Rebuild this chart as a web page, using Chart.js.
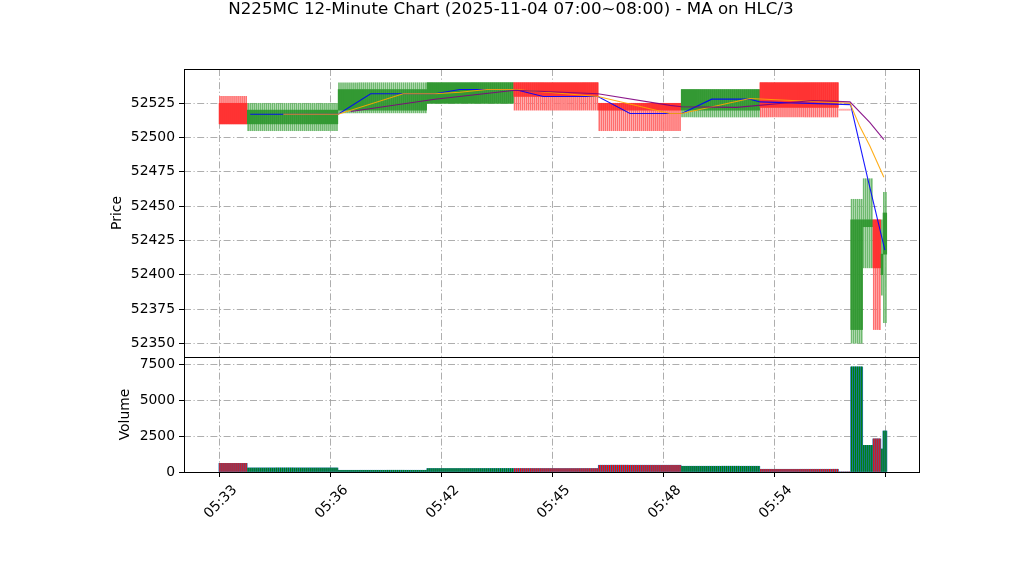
<!DOCTYPE html>
<html>
<head>
<meta charset="utf-8">
<script src="https://cdn.jsdelivr.net/npm/chart.js@4.4.0/dist/chart.umd.min.js"></script>
<style>
  html, body { margin: 0; padding: 0; background: #fff; }
  #wrap { width: 1022px; height: 575px; }
</style>
</head>
<body>
<div id="wrap"><canvas id="chart" width="1022" height="575"></canvas></div>
<script>
// start: Data
// the feed repeats the same bar over a run of slots, one entry per run
const blockStart = [0, 14, 59, 103, 146, 188, 229, 268, 307, 313, 319, 324, 328, 329];
const blockCount = [14, 45, 44, 43, 42, 41, 39, 39, 6, 6, 5, 4, 1, 2];
const opens   = [52525, 52510, 52520, 52525, 52540, 52525, 52520, 52540, 52520, 52360, 52435, 52440, 52400, 52415];
const highs   = [52530, 52525, 52540, 52540, 52540, 52525, 52535, 52540, 52520, 52455, 52470, 52440, 52440, 52460];
const lows    = [52510, 52505, 52518, 52525, 52520, 52505, 52515, 52515, 52520, 52350, 52405, 52360, 52385, 52365];
const closes  = [52510, 52520, 52535, 52540, 52530, 52520, 52535, 52522, 52520, 52440, 52440, 52405, 52415, 52445];
const volumes = [600, 280, 120, 240, 240, 470, 400, 190, 0, 7300, 1850, 2300, 1600, 2850];

const tickPos = [0, 55, 110, 165, 220, 275, 330];
const tickLabels = ["05:33", "05:36", "05:42", "05:45", "05:48", "05:54", ""];
const priceTicks = [52350, 52375, 52400, 52425, 52450, 52475, 52500, 52525];
const volumeTicks = [0, 2500, 5000, 7500];

// moving averages of (H+L+C)/3, vertices
const maFastX = [15, 58.6, 74.7, 106.5, 118.9, 146.2, 160.2, 187.3, 203.2, 228.8, 243.7, 262.6, 267.6, 312.5, 321, 329.5];
const maFastY = [52517, 52517, 52532, 52532, 52535, 52535, 52530, 52530, 52517.5, 52517.5, 52528, 52528, 52526, 52524, 52470, 52418];
const maMidX = [31.4, 58.6, 90.8, 106.5, 118.9, 132.3, 146.2, 187.3, 223, 228.8, 262.6, 312.2, 317.1, 322, 329];
const maMidY = [52517, 52517, 52532, 52532, 52533, 52535, 52535, 52530, 52517.5, 52517.5, 52528.5, 52525, 52508, 52494, 52471];
const maSlowX = [64.8, 106.5, 146.2, 187.3, 223, 228.8, 256, 293.9, 312.2, 322, 329];
const maSlowY = [52519, 52528, 52534.5, 52532, 52523.5, 52522.5, 52522, 52527, 52526, 52511, 52498.5];
// end: Data

const TITLE = "N225MC 12-Minute Chart (2025-11-04 07:00~08:00) - MA on HLC/3";

const candles = [];
blockStart.forEach(function (s, b) {
  for (let k = 0; k < blockCount[b]; k++) {
    candles.push({ x: s + k, o: opens[b], h: highs[b], l: lows[b], c: closes[b], v: volumes[b] });
  }
});

function isUp(c) { return c.c > c.o; }
function bodyColor(c) {
  if (c.c === c.o) return "rgb(255, 170, 170)";
  return isUp(c) ? "rgb(51, 153, 51)" : "rgb(255, 51, 51)";
}
function wickColor(c) {
  if (c.c === c.o) return "rgb(255, 190, 190)";
  return isUp(c) ? "rgb(110, 185, 110)" : "rgb(255, 110, 110)";
}
function zip(xs, ys) {
  return xs.map(function (x, i) { return { x: x, y: ys[i] }; });
}

Chart.defaults.font.family = "'DejaVu Sans', sans-serif";
Chart.defaults.font.size = 13.9;
Chart.defaults.color = "#000";

const gridColor = "rgba(160, 160, 160, 0.85)";
const dashDot = [7, 2.5, 1.2, 2.5];

// panel frames + figure title (centred on the whole canvas like matplotlib suptitle)
const frame = {
  id: "frame",
  afterDraw(chart) {
    const ctx = chart.ctx;
    const area = chart.chartArea;
    ctx.save();
    ctx.strokeStyle = "#000";
    ctx.lineWidth = 1;
    ["yp", "yv"].forEach(function (id) {
      const s = chart.scales[id];
      ctx.strokeRect(area.left + 0.5, s.top + 0.5, area.right - area.left - 1, s.bottom - s.top);
    });
    ctx.fillStyle = "#000";
    ctx.font = "16.7px 'DejaVu Sans', sans-serif";
    ctx.textAlign = "center";
    ctx.textBaseline = "middle";
    ctx.fillText(TITLE, chart.width / 2, 10);
    ctx.restore();
  },
};

new Chart(document.getElementById("chart"), {
  type: "bar",
  data: {
    datasets: [
      {
        type: "line",
        label: "MA fast",
        data: zip(maFastX, maFastY),
        yAxisID: "yp",
        borderColor: "rgba(0, 0, 255, 0.9)",
        borderWidth: 1.1,
        pointRadius: 0,
        tension: 0,
        order: 2,
      },
      {
        type: "line",
        label: "MA mid",
        data: zip(maMidX, maMidY),
        yAxisID: "yp",
        borderColor: "rgba(255, 165, 0, 0.9)",
        borderWidth: 1.1,
        pointRadius: 0,
        tension: 0,
        order: 1,
      },
      {
        type: "line",
        label: "MA slow",
        data: zip(maSlowX, maSlowY),
        yAxisID: "yp",
        borderColor: "rgba(128, 0, 128, 0.9)",
        borderWidth: 1.1,
        pointRadius: 0,
        tension: 0,
        order: 0,
      },
      {
        label: "Wick",
        data: candles.map(function (c) { return { x: c.x, y: [c.l, c.h] }; }),
        yAxisID: "yp",
        backgroundColor: candles.map(wickColor),
        barThickness: 1,
        grouped: false,
        order: 6,
      },
      {
        label: "Body",
        data: candles.map(function (c) { return { x: c.x, y: [Math.min(c.o, c.c), Math.max(c.o, c.c)] }; }),
        yAxisID: "yp",
        backgroundColor: candles.map(bodyColor),
        barThickness: 1.7,
        minBarLength: 1,
        grouped: false,
        order: 5,
      },
      {
        label: "Volume",
        data: candles.map(function (c) { return { x: c.x, y: c.v }; }),
        yAxisID: "yv",
        backgroundColor: "#1f77b4",
        barThickness: 2.1,
        grouped: false,
        order: 4,
      },
      {
        label: "Volume side",
        data: candles.map(function (c) { return { x: c.x, y: c.v }; }),
        yAxisID: "yv",
        backgroundColor: candles.map(function (c) { return isUp(c) ? "#008000" : "#ff0000"; }),
        barThickness: 0.5,
        grouped: false,
        order: 3,
      },
    ],
  },
  options: {
    responsive: false,
    animation: false,
    devicePixelRatio: 1,
    layout: { padding: { left: 0, right: 102, top: 69, bottom: 0 } },
    plugins: {
      legend: { display: false },
      tooltip: { enabled: false },
      title: { display: false },
    },
    scales: {
      x: {
        type: "linear",
        min: -17.8,
        max: 346.9,
        offset: false,
        grid: { offset: false, color: gridColor, tickColor: "#000", tickLength: 5, tickWidth: 1 },
        border: { display: false, dash: dashDot },
        afterBuildTicks(scale) {
          scale.ticks = tickPos.map(function (v) { return { value: v }; });
        },
        afterFit(scale) { scale.height = 103; },
        ticks: {
          autoSkip: false,
          minRotation: 45,
          maxRotation: 45,
          padding: 5,
          labelOffset: 15,
          callback: function (v) {
            const i = tickPos.indexOf(v);
            return i >= 0 ? tickLabels[i] : "";
          },
        },
      },
      yv: {
        type: "linear",
        position: "left",
        stack: "panels",
        stackWeight: 115,
        min: 0,
        max: 7990,
        grid: { color: gridColor, tickColor: "#000", tickLength: 5, tickWidth: 1 },
        border: { display: false, dash: dashDot },
        afterBuildTicks(scale) {
          scale.ticks = volumeTicks.map(function (v) { return { value: v }; });
        },
        afterFit(scale) { scale.width = 184; },
        ticks: { padding: 4, callback: function (v) { return String(v); } },
        title: { display: true, text: "Volume", padding: { top: 117, bottom: 0 } },
      },
      yp: {
        type: "linear",
        position: "left",
        stack: "panels",
        stackWeight: 288,
        min: 52340,
        max: 52550,
        grid: { color: gridColor, tickColor: "#000", tickLength: 5, tickWidth: 1 },
        border: { display: false, dash: dashDot },
        afterBuildTicks(scale) {
          scale.ticks = priceTicks.map(function (v) { return { value: v }; });
        },
        afterFit(scale) { scale.width = 184; },
        ticks: { padding: 4, callback: function (v) { return String(v); } },
        title: { display: true, text: "Price", padding: { top: 109, bottom: 0 } },
      },
    },
  },
  plugins: [frame],
});
</script>
</body>
</html>
